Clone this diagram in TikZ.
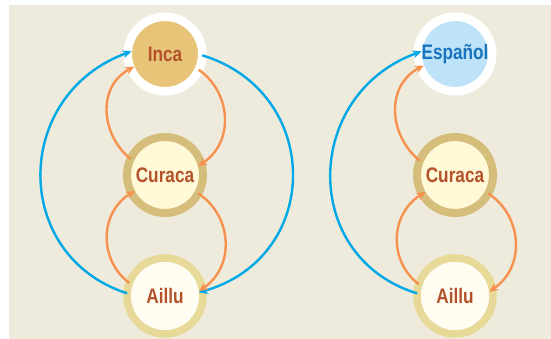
\documentclass[tikz,border=0pt]{standalone}
\usepackage{fontspec}
\setmainfont[FakeStretch=0.82]{Liberation Sans}
\usetikzlibrary{arrows.meta}
\definecolor{bg}{HTML}{EFEBDC}
\definecolor{incafill}{HTML}{E7C477}
\definecolor{curring}{HTML}{D5BD7B}
\definecolor{curfill}{HTML}{FFF9D8}
\definecolor{ailring}{HTML}{E7DA98}
\definecolor{ailfill}{HTML}{FFFDF2}
\definecolor{espfill}{HTML}{BEE3F8}
\definecolor{txtbrown}{HTML}{B3522B}
\definecolor{txtblue}{HTML}{1874BC}
\definecolor{bluel}{HTML}{00A8E6}
\definecolor{orangel}{HTML}{F6914F}
\tikzset{
  rolenode/.style={circle, inner sep=0pt, outer sep=0pt, font=\fontsize{21}{23}\selectfont\bfseries},
  incanode/.style={rolenode, draw=white, line width=8.5pt, fill=incafill, minimum size=74.5pt, text=txtbrown},
  espnode/.style={rolenode, draw=white, line width=8.5pt, fill=espfill, minimum size=74.5pt, text=txtblue},
  curnode/.style={rolenode, draw=curring, line width=8pt, fill=curfill, minimum size=76pt, text=txtbrown},
  ailnode/.style={rolenode, draw=ailring, line width=7.5pt, fill=ailfill, minimum size=76pt, text=txtbrown},
  bluearr/.style={draw=bluel, line width=2.4pt, -{Stealth[length=9pt,width=8pt]}, shorten >=-4pt},
  orarr/.style={draw=orangel, line width=2.4pt, -{Stealth[length=9pt,width=8pt]}, shorten >=-4pt},
}
\begin{document}
\begin{tikzpicture}[x=1pt,y=1pt]
\useasboundingbox (0,0) rectangle (551,339);
\fill[bg] (9,0) rectangle (551,334);
% left column
\node[incanode] (inca) at (165,285) {Inca};
\node[curnode] (curL) at (165,164) {Curaca};
\node[ailnode] (ailL) at (165,43) {Aillu};
% right column
\node[espnode] (esp) at (455,285) {Español};
\node[curnode] (curR) at (455,164) {Curaca};
\node[ailnode] (ailR) at (455,43) {Aillu};
% left connectors
\draw[bluearr] (ailL.176) to[out=162,in=200,looseness=1.3] (inca.178);
\draw[bluearr] (inca.-2) to[out=-17,in=16,looseness=1.36] (ailL.7);
\draw[orarr] (curL.155) to[out=141,in=208,looseness=1.09] (inca.203);
\draw[orarr] (inca.-25) to[out=-35,in=33,looseness=1.08] (curL.17);
\draw[orarr] (ailL.160) to[out=143,in=212,looseness=1.08] (curL.208);
\draw[orarr] (curL.-29) to[out=-33,in=34,looseness=1.08] (ailL.11);
% right connectors
\draw[bluearr] (ailR.176) to[out=163,in=200,looseness=1.3] (esp.178);
\draw[orarr] (curR.158) to[out=141,in=208,looseness=1.09] (esp.201);
\draw[orarr] (ailR.162) to[out=143,in=212,looseness=1.08] (curR.210);
\draw[orarr] (curR.-29) to[out=-33,in=34,looseness=1.08] (ailR.10);
\end{tikzpicture}
\end{document}
